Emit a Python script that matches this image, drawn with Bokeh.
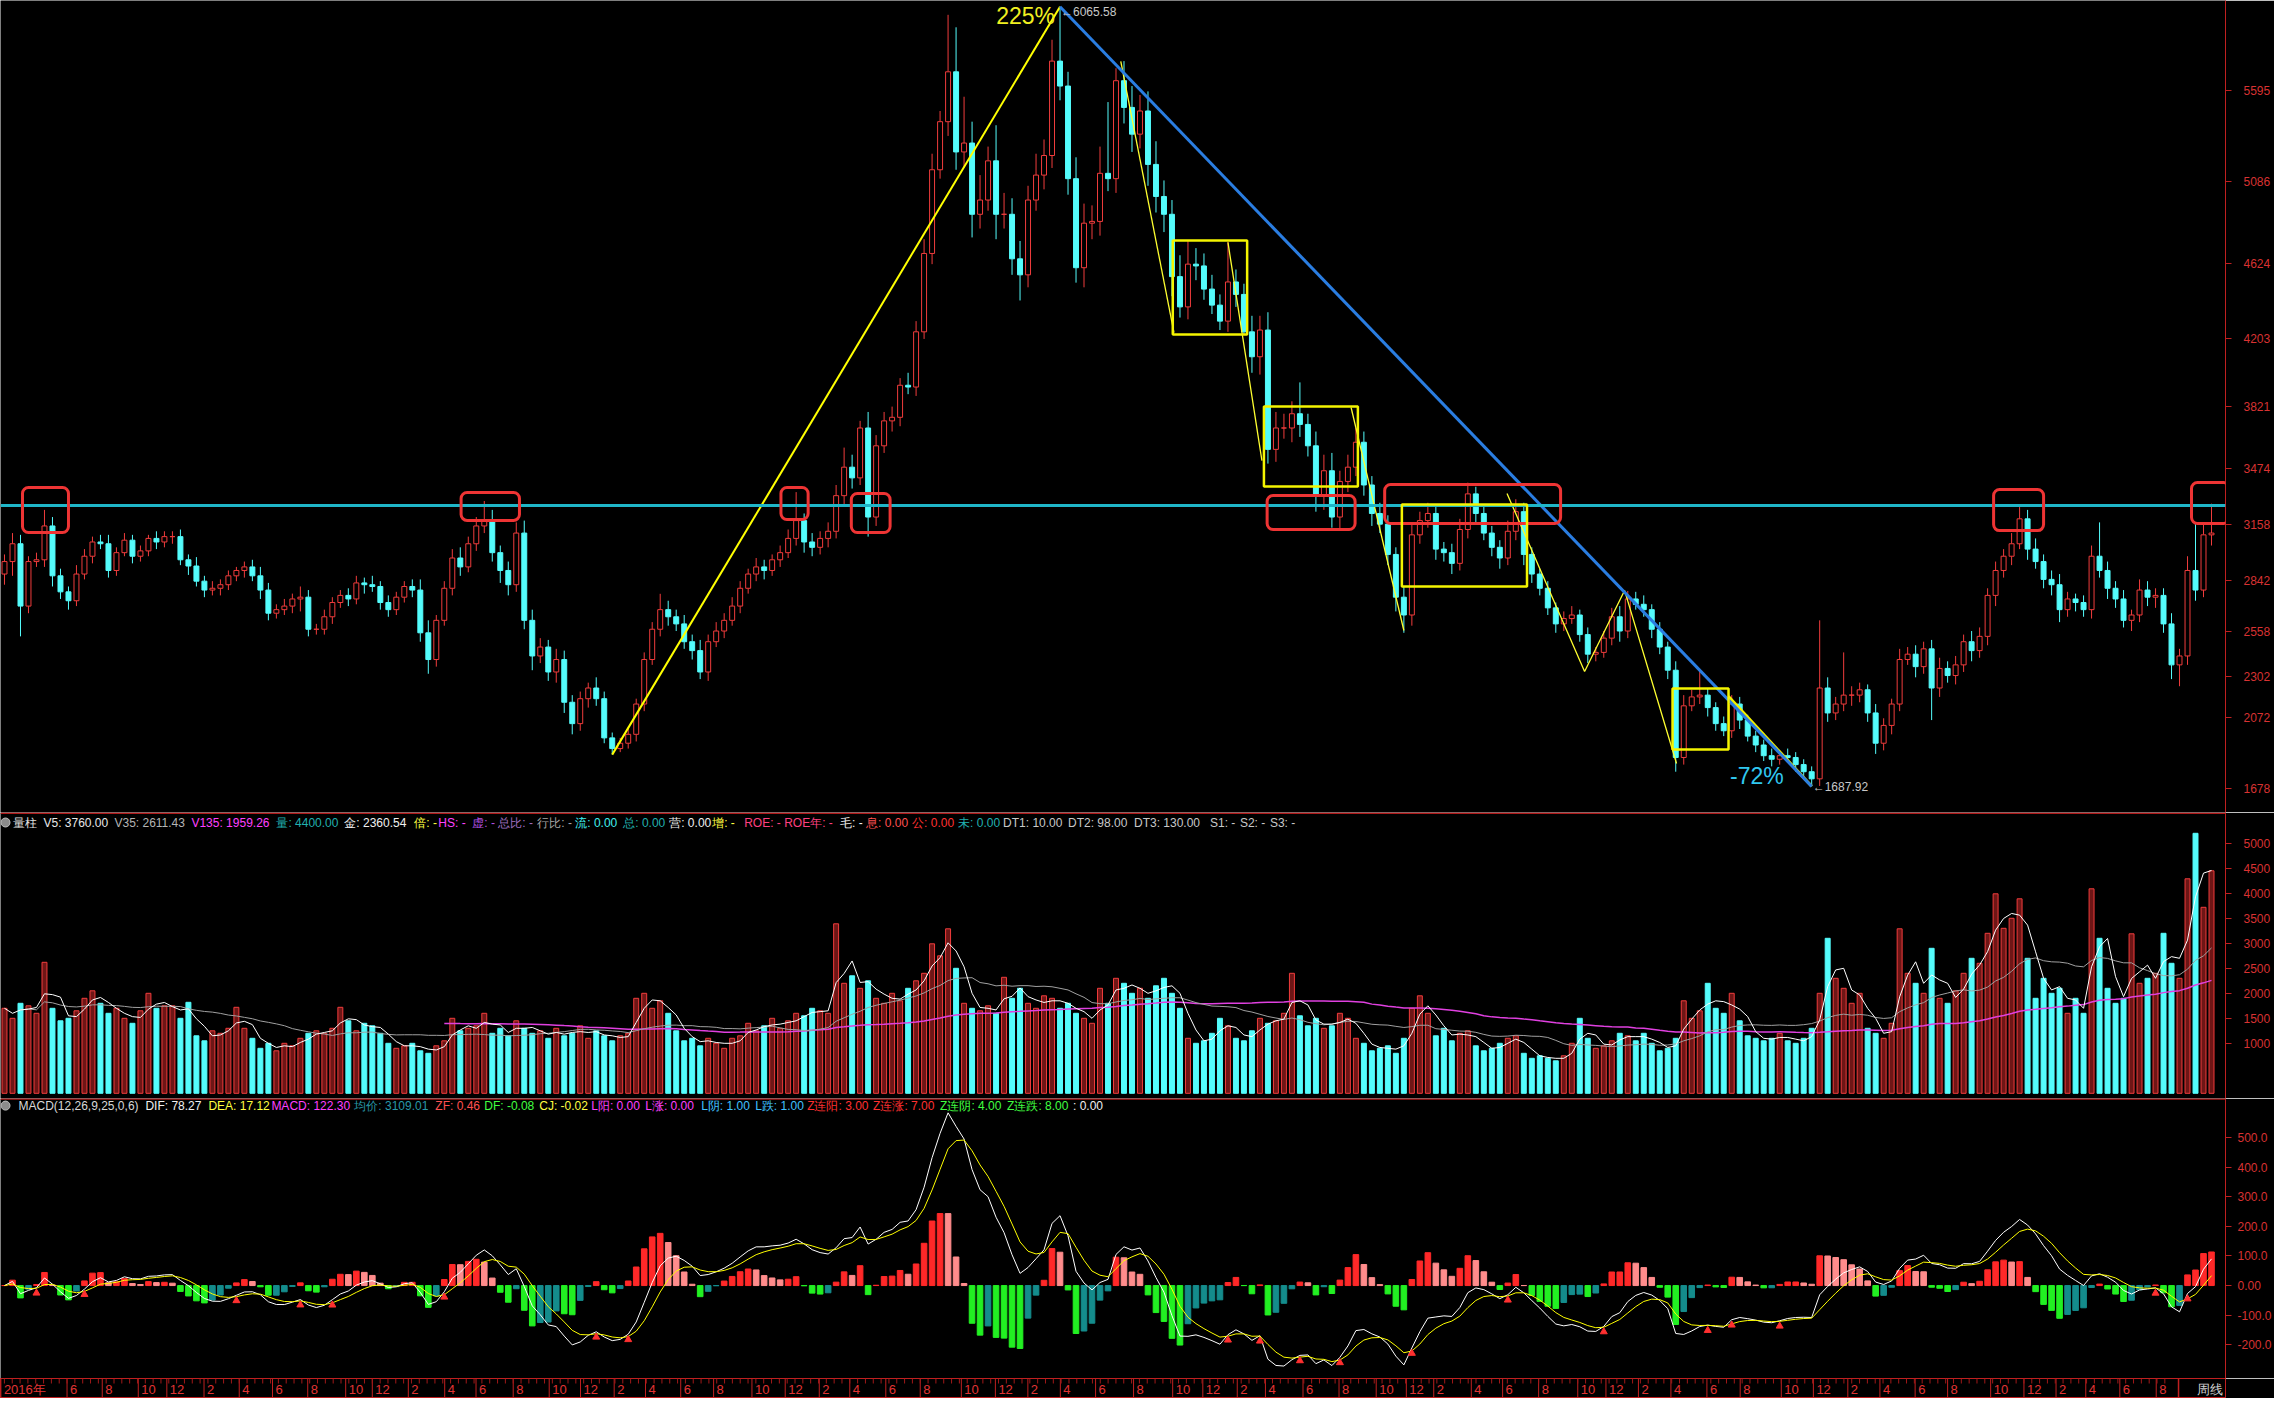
import re
import numpy as np
import pandas as pd
from bokeh.plotting import figure
from bokeh.layouts import column
from bokeh.models import Range1d, FixedTicker, ColumnDataSource, Span, BoxAnnotation
from bokeh.core.properties import value
from bokeh.embed import file_html
from bokeh.resources import INLINE

# ---------------- data (one bar ~ 2 weeks) ----------------
first_open = 2880
close = [
    2950, 3050, 2700, 2950, 2960, 3150, 2870, 2780, 2730, 2880,
    2980, 3060, 3050, 2900, 3000, 3070, 2980, 3010, 3080, 3060,
    3090, 3090, 2960, 2925, 2840, 2790, 2800, 2820, 2870, 2900,
    2920, 2870, 2790, 2660, 2680, 2700, 2740, 2750, 2570, 2570,
    2640, 2720, 2760, 2740, 2830, 2820, 2810, 2720, 2680, 2750,
    2810, 2790, 2550, 2400, 2620, 2800, 2970, 2920, 3050, 3150,
    3180, 3000, 2900, 2820, 3110, 2620, 2420, 2470, 2330, 2400,
    2160, 2040, 2180, 2240, 2180, 1960, 1900, 1930, 1980, 2150,
    2400, 2570, 2680, 2640, 2600, 2500, 2450, 2330, 2500, 2560,
    2620, 2700, 2800, 2880, 2920, 2900, 2960, 3000, 3080, 3180,
    3060, 3030, 3080, 3120, 3320, 3480, 3420, 3700, 3200, 3600,
    3740, 3760, 3940, 3930, 4240, 4680, 5150, 5420, 5700, 5250,
    5300, 4900, 4980, 5200, 4900, 4900, 4650, 4560, 4980, 5120,
    5230, 5760, 5620, 5100, 4600, 4850, 4860, 5130, 5100, 5650,
    5500, 5350, 5480, 5180, 5000, 4900, 4550, 4380, 4620, 4610,
    4480, 4390, 4300, 4520, 4450, 4240, 4100, 4250, 3580, 3700,
    3700, 3780, 3720, 3600, 3320, 3460, 3200, 3400, 3480, 3620,
    3380, 3220, 3160, 2990, 2750, 2650, 3100, 3180, 3220, 3020,
    3000, 2940, 3130, 3330, 3220, 3110, 3030, 2970, 3120, 3230,
    2990, 2880, 2800, 2690, 2600, 2630, 2650, 2540, 2430, 2440,
    2520, 2640, 2560, 2740, 2710, 2680, 2570, 2470, 2340, 1850,
    2140, 2190, 2200, 2130, 2040, 2000, 2150, 2060, 1970, 1920,
    1860, 1840, 1860, 1850, 1810, 1770, 1730, 2240, 2100, 2150,
    2200, 2200, 2230, 2100, 1930, 2030, 2150, 2400, 2430, 2360,
    2460, 2240, 2350, 2310, 2370, 2500, 2450, 2530, 2760, 2900,
    2980, 3050, 3190, 3020, 2950, 2850, 2820, 2680, 2740, 2720,
    2680, 2980, 2900, 2800, 2740, 2620, 2650, 2790, 2750, 2760,
    2600, 2370, 2420, 2900, 2790, 3100, 3110,
]
wick_up = [
    40, 60, 50, 30, 40, 90, 50, 40, 30, 50,
    40, 30, 40, 50, 30, 40, 30, 30, 20, 40,
    30, 30, 40, 30, 50, 30, 40, 30, 30, 20,
    30, 40, 50, 40, 30, 40, 30, 60, 40, 30,
    40, 30, 30, 40, 40, 30, 50, 30, 40, 30,
    30, 40, 60, 70, 30, 40, 50, 60, 40, 50,
    110, 60, 40, 50, 60, 70, 60, 50, 40, 60,
    50, 40, 40, 30, 60, 40, 30, 30, 40, 30,
    40, 40, 89, 50, 40, 50, 40, 60, 40, 50,
    40, 50, 40, 30, 50, 40, 30, 40, 50, 160,
    40, 50, 40, 50, 60, 110, 70, 40, 90, 60,
    50, 60, 40, 70, 60, 80, 90, 60, 320, 250,
    260, 120, 140, 80, 200, 120, 90, 100, 80, 120,
    90, 120, 305.58, 80, 120, 110, 90, 150, 400, 70,
    110, 120, 90, 110, 130, 90, 80, 120, 130, 90,
    70, 80, 60, 225, 70, 60, 90, 80, 100, 90,
    80, 70, 176, 60, 80, 90, 100, 60, 70, 80,
    60, 50, 60, 50, 40, 60, 70, 50, 60, 50,
    40, 50, 60, 63, 40, 50, 40, 40, 60, 70,
    50, 40, 30, 40, 30, 40, 50, 30, 40, 30,
    40, 50, 60, 45, 40, 50, 30, 40, 30, 50,
    60, 40, 145, 40, 30, 40, 50, 40, 30, 30,
    30, 40, 30, 40, 30, 30, 30, 380, 60, 40,
    240, 50, 40, 30, 50, 40, 30, 60, 40, 50,
    40, 50, 60, 40, 50, 40, 60, 50, 40, 50,
    40, 60, 66, 50, 60, 40, 50, 60, 40, 30,
    40, 60, 190, 50, 40, 50, 30, 60, 50, 40,
    40, 60, 40, 80, 260, 70, 165,
]
wick_dn = [
    60, 80, 170, 40, 30, 40, 60, 40, 50, 30,
    30, 40, 30, 40, 30, 20, 40, 30, 30, 40,
    30, 40, 30, 50, 30, 40, 30, 40, 30, 30,
    40, 30, 50, 40, 30, 30, 40, 70, 40, 30,
    30, 40, 30, 40, 30, 50, 30, 40, 40, 30,
    30, 40, 50, 80, 40, 30, 40, 50, 30, 40,
    40, 50, 70, 60, 40, 50, 80, 40, 50, 60,
    60, 60, 40, 50, 40, 30, 34, 20, 30, 40,
    40, 30, 40, 50, 40, 40, 50, 40, 50, 30,
    40, 30, 40, 30, 40, 50, 30, 40, 30, 40,
    60, 50, 40, 50, 40, 50, 60, 40, 110, 50,
    40, 60, 50, 40, 50, 40, 60, 50, 80, 100,
    90, 130, 80, 60, 140, 80, 90, 144, 70, 60,
    80, 70, 80, 90, 84, 110, 90, 80, 70, 80,
    90, 100, 80, 120, 90, 100, 110, 60, 70, 80,
    60, 50, 50, 60, 70, 15, 90, 100, 80, 70,
    60, 80, 70, 60, 90, 80, 60, 70, 60, 50,
    60, 70, 50, 60, 80, 100, 60, 50, 40, 60,
    50, 60, 40, 50, 60, 40, 50, 60, 40, 50,
    60, 50, 40, 40, 50, 40, 30, 40, 50, 40,
    30, 40, 60, 40, 30, 40, 50, 40, 50, 80,
    40, 30, 40, 50, 40, 30, 40, 50, 30, 40,
    30, 40, 30, 30, 40, 30, 42.08, 40, 50, 40,
    40, 60, 40, 50, 60, 40, 50, 40, 30, 60,
    40, 180, 50, 40, 50, 40, 60, 40, 50, 60,
    40, 50, 30, 60, 40, 50, 60, 70, 40, 50,
    40, 50, 40, 60, 50, 40, 60, 40, 50, 60,
    50, 80, 120, 50, 60, 40, 60,
]
volume = [
    1700, 1500, 1800, 1750, 1600, 2620, 1700, 1450, 1500, 1650,
    1900, 2050, 1800, 1600, 1700, 1500, 1400, 1650, 2000, 1700,
    1750, 1750, 1500, 1820, 1150, 1050, 1250, 1200, 1300, 1720,
    1300, 1100, 900, 1000, 850, 1000, 950, 1100, 1200, 1250,
    1200, 1300, 1720, 1450, 1250, 1400, 1350, 1200, 1000, 900,
    950, 1000, 850, 800, 950, 1050, 1500, 1250, 1300, 1350,
    1600, 1200, 1300, 1150, 1450, 1300, 1200, 1250, 1100, 1300,
    1150, 1200, 1350, 1100, 1250, 1150, 1050, 1150, 1200, 1900,
    2000, 1700, 1850, 1600, 1250, 1050, 1100, 950, 1100, 1000,
    900, 1100, 1150, 1400, 1250, 1350, 1500, 1300, 1450, 1600,
    1550, 1700, 1650, 1600, 3390, 2200, 2350, 2100, 2250, 1900,
    1800, 2000, 1850, 2100, 2250, 2400, 2990, 2750, 3290, 2500,
    1800, 1700, 1650, 1750, 1600, 2320, 1900, 2100, 1800, 1700,
    1950, 1900, 1700, 1800, 1600, 1500, 1400, 2100, 1800, 2300,
    2200, 2000, 2100, 1900, 2150, 2300, 2000, 1700, 1100, 1000,
    1050, 1200, 1500, 1350, 1100, 1050, 1250, 1500, 1400, 1450,
    1600, 2400, 1550, 1350, 1500, 1300, 1350, 1600, 1500, 1100,
    1000, 850, 900, 950, 800, 1100, 1700, 1950, 1600, 1150,
    1300, 1050, 1200, 1250, 950, 850, 900, 1000, 1100, 1150,
    800, 700, 750, 700, 650, 750, 1000, 1500, 1100, 900,
    950, 1050, 1200, 1150, 1050, 1200, 1000, 850, 900, 1100,
    1850, 1500, 1650, 2200, 1700, 1600, 2000, 1450, 1150, 1100,
    1050, 1100, 1200, 1050, 1000, 1100, 1300, 2000, 3100, 2300,
    2100, 1800, 2000, 1300, 1200, 1100, 1400, 3290, 2400, 2200,
    2000, 2900, 1900, 1800, 2050, 2400, 2700, 2600, 3200, 3990,
    3300, 3500, 3890, 2700, 1900, 2300, 2000, 2100, 1600, 1900,
    1600, 4090, 3100, 2100, 1800, 1900, 3190, 2200, 2300, 2400,
    3200, 2600, 2300, 4290, 5200, 3720, 4450,
]
tick_pos = [
    -0.45, 8.0, 12.5, 17.1, 20.75,
    25.5, 30.0, 34.25, 38.75, 43.6, 47.0,
    51.6, 56.25, 60.25, 65.0, 69.6, 73.6,
    77.9, 81.9, 86.4, 90.6, 95.5, 99.75,
    104.1, 108.0, 112.6, 117.0, 122.25, 126.6,
    130.75, 134.9, 139.4, 144.25, 149.25, 153.1,
    157.5, 161.1, 165.9, 170.5, 175.25, 179.1,
    182.6, 187.4, 191.4, 196.0, 201.0, 204.6,
    208.75, 212.9, 217.5, 221.75, 227.0, 231.1,
    235.5, 239.6, 244.1, 248.25, 253.75, 258.0,
    262.1, 265.9, 270.25, 274.9,
]
tick_labels = ["2016年", "6", "8", "10", "12"] + ["2", "4", "6", "8", "10", "12"] * 9 + ["2", "4", "6", "8"]
price_ticks = [1678, 2072, 2302, 2558, 2842, 3158, 3474, 3821, 4203, 4624, 5086, 5595]
vol_ticks = [1000, 1500, 2000, 2500, 3000, 3500, 4000, 4500, 5000]
macd_ticks = [-200, -100, 0, 100, 200, 300, 400, 500]
resistance = 3265
period_name = "周线"
# annotation boxes: (first bar edge, last bar edge, low price, high price)
red_boxes = [
    (2.25, 8.0, 3113, 3366), (57.1, 64.4, 3181, 3338), (97.1, 100.5, 3186, 3366),
    (105.9, 110.75, 3113, 3332), (157.9, 168.9, 3130, 3321), (172.6, 194.6, 3164, 3383),
    (248.75, 255.0, 3124, 3355), (273.5, 278.25, 3164, 3394),
]
yellow_boxes = [
    (146.1, 155.4, 4225, 4753), (157.5, 169.25, 3372, 3821),
    (174.75, 190.4, 2810, 3270), (208.6, 215.6, 1895, 2237),
]
zigzag_thin = [
    [(139.6, 5758), (146.25, 4236)],
    [(153.0, 4742), (157.25, 3517)],
    [(168.4, 3815), (175.0, 2563)],
    [(187.9, 3332), (197.6, 2333), (202.6, 2788), (209.1, 1816)],
]
zigzag_thick_start = (215.6, 2192)

# ---------------- derived series ----------------
n = len(close)
assert len(wick_up) == n and len(wick_dn) == n and len(volume) == n
assert len(tick_pos) == len(tick_labels)
xs = np.arange(n)
c = np.array(close, float)
o = np.array([first_open] + close[:-1], float)
top = np.maximum(o, c)
bot = np.minimum(o, c)
hi = top + np.array(wick_up, float)
lo = bot - np.array(wick_dn, float)
up = c >= o

RED = "#f03c3c"
CYAN = "#54fcfc"
AXIS_RED = "#c02020"
LABEL_RED = "#d83232"
FONT = "Liberation Sans"

col = [RED if u else CYAN for u in up]
fill = ["#000000" if u else CYAN for u in up]
vfill = ["#6e1616" if u else CYAN for u in up]

ip = int(np.argmax(hi))
il1 = int(np.argmin(lo[:ip]))
il2 = ip + int(np.argmin(lo[ip:]))
rise_pct = (hi[ip] / lo[il1] - 1) * 100
fall_pct = (lo[il2] / hi[ip] - 1) * 100

s = pd.Series(c)
dif = s.ewm(span=6, adjust=False).mean() - s.ewm(span=13, adjust=False).mean()
dea = dif.ewm(span=4.5, adjust=False).mean()
hist = 2 * (dif - dea)
prev = hist.shift(1).fillna(0)
hcol = []
for h, pv_ in zip(hist, prev):
    if h >= 0:
        hcol.append("#ff2828" if h >= pv_ else "#ff8c8c")
    else:
        hcol.append("#22f022" if h <= pv_ else "#148c8c")
cross = [i for i in range(1, n) if dif[i - 1] <= dea[i - 1] and dif[i] > dea[i] and dif[i] < 0]

vs = pd.Series(np.array(volume, float))
v5 = vs.rolling(3, min_periods=1).mean()
v35 = vs.rolling(18, min_periods=3).mean()
v135 = vs.rolling(67, min_periods=56).mean()

# ---------------- figures ----------------
X_END = 277.75
xr = Range1d(-0.5, X_END)
common = dict(width=2274, x_range=xr, output_backend="svg", toolbar_location=None,
              background_fill_color="#000000", border_fill_color="#000000",
              min_border_left=0, min_border_right=48, min_border_top=0, min_border_bottom=0,
              outline_line_color=None)


def style_axis(ax, ticks, standoff, overrides=None):
    ax.ticker = FixedTicker(ticks=ticks)
    ax.axis_line_color = AXIS_RED
    ax.major_tick_line_color = AXIS_RED
    ax.major_tick_out = 6
    ax.major_tick_in = 0
    ax.minor_tick_line_color = None
    ax.major_label_text_color = LABEL_RED
    ax.major_label_text_font = FONT
    ax.major_label_text_font_size = "12px"
    ax.major_label_standoff = standoff
    if overrides:
        ax.major_label_overrides = overrides


def px(v):
    return v / 8.0 - 0.5


# ---- main price panel ----
p = figure(height=812, y_range=Range1d(1541, 6100.4), y_axis_location="right",
           x_axis_location=None, **common)
p.grid.visible = False
style_axis(p.yaxis[0], price_ticks, 12)

src = ColumnDataSource(dict(x=xs, top=top, bot=bot, hi=hi, lo=lo, col=col, fill=fill))
p.segment(x0="x", y0="top", x1="x", y1="hi", line_color="col", line_width=1, source=src)
p.segment(x0="x", y0="bot", x1="x", y1="lo", line_color="col", line_width=1, source=src)
p.vbar(x="x", width=0.62, top="top", bottom="bot", fill_color="fill", line_color="col",
       line_width=1, source=src)

p.add_layout(Span(location=resistance, dimension="width", line_color="#1fb6c8", line_width=3))
for (x0, x1, y0, y1) in red_boxes:
    p.add_layout(BoxAnnotation(left=x0, right=x1, bottom=y0, top=y1, fill_color=None, fill_alpha=0,
                               line_color="#ee3434", line_alpha=1.0, line_width=3, border_radius=6))
for (x0, x1, y0, y1) in yellow_boxes:
    p.add_layout(BoxAnnotation(left=x0, right=x1, bottom=y0, top=y1, fill_color=None, fill_alpha=0,
                               line_color="#f4f400", line_alpha=1.0, line_width=2.5))
for seg in zigzag_thin:
    p.line([q[0] for q in seg], [q[1] for q in seg], line_color="#ffff30", line_width=1.3)
p.line([zigzag_thick_start[0], il2], [zigzag_thick_start[1], lo[il2]], line_color="#f4f400",
       line_width=3)
p.line([il1, ip], [lo[il1], hi[ip]], line_color="#ffff00", line_width=2)
p.line([ip, il2], [hi[ip], lo[il2]], line_color="#2a7de1", line_width=3)

p.text(x=[ip], y=[hi[ip]], text=[f"{rise_pct:.0f}%"], text_align="right", text_baseline="bottom",
       x_offset=-5, y_offset=22, text_color="#f0f020", text_font=value(FONT), text_font_size="23px")
p.text(x=[ip], y=[hi[ip]], text=[f"←{hi[ip]:.2f}"], text_align="left", text_baseline="middle",
       x_offset=1, y_offset=5, text_color="#c8c8c8", text_font=value(FONT), text_font_size="12px")
p.text(x=[il2], y=[lo[il2]], text=[f"{fall_pct:.0f}%"], text_align="right", text_baseline="bottom",
       x_offset=-28, y_offset=3, text_color="#30c8f0", text_font=value(FONT), text_font_size="23px")
p.text(x=[il2], y=[lo[il2]], text=[f"←{lo[il2]:.2f}"], text_align="left", text_baseline="middle",
       x_offset=1, y_offset=1, text_color="#c8c8c8", text_font=value(FONT), text_font_size="12px")

# ---- volume panel ----
pv = figure(height=286, y_range=Range1d(-104, 5616), y_axis_location="right",
            x_axis_location=None, **common)
pv.grid.visible = False
style_axis(pv.yaxis[0], vol_ticks, 12)
vsrc = ColumnDataSource(dict(x=xs, v=volume, col=col, fill=vfill))
pv.vbar(x="x", width=0.62, top="v", bottom=0, fill_color="fill", line_color="col",
        line_width=1, source=vsrc)
pv.line(xs, v135, line_color="#e040e0", line_width=1.5)
pv.line(xs, v35, line_color="#a0a0a0", line_width=1)
pv.line(xs, v5, line_color="#ffffff", line_width=1)
pv.add_layout(Span(location=5600, dimension="width", line_color="#b01818", line_width=1.5))

vol_title = [
    (13, "量柱", "#e0e0e0"), (43, "V5: 3760.00", "#e8e8e8"), (114, "V35: 2611.43", "#b4b4b4"),
    (191, "V135: 1959.26", "#ff40ff"), (276, "量: 4400.00", "#20b0b0"), (344, "金: 2360.54", "#f0f0f0"),
    (414, "倍: -", "#ffff40"), (438, "HS: -", "#ff40ff"), (472, "虚: -", "#b050e0"),
    (498, "总比: -", "#a070c0"), (537, "行比: -", "#a8a8a8"), (575, "流: 0.00", "#40f0f0"),
    (623, "总: 0.00", "#20b0b0"), (669, "营: 0.00", "#f0f0f0"), (712, "增: -", "#ffff40"),
    (744, "ROE: -", "#ff4080"), (784, "ROE年: -", "#ff4080"), (840, "毛: -", "#f0f0f0"),
    (866, "息: 0.00", "#ff5050"), (912, "公: 0.00", "#ff3030"), (958, "未: 0.00", "#20b0b0"),
    (1003, "DT1: 10.00", "#c8c8c8"), (1068, "DT2: 98.00", "#c8c8c8"), (1134, "DT3: 130.00", "#c8c8c8"),
    (1210, "S1: -", "#c8c8c8"), (1240, "S2: -", "#c8c8c8"), (1270, "S3: -", "#c8c8c8"),
]
pv.scatter([px(5)], [5416], size=9, fill_color="#8c8c8c", line_color="#c0c0c0")
pv.text(x=[px(t[0]) for t in vol_title], y=[5416] * len(vol_title), text=[t[1] for t in vol_title],
        text_color=[t[2] for t in vol_title], text_align="left", text_baseline="middle",
        text_font=value(FONT), text_font_size="12px")

# ---- MACD panel ----
pm = figure(height=280, y_range=Range1d(-314, 632), y_axis_location="right",
            x_axis_location=None, **common)
pm.grid.visible = False
style_axis(pm.yaxis[0], macd_ticks, 6,
           {500: "500.0", 400: "400.0", 300: "300.0", 200: "200.0", 100: "100.0",
            0: "0.00", -100: "-100.0", -200: "-200.0"})
msrc = ColumnDataSource(dict(x=xs, h=hist.values, col=hcol))
pm.vbar(x="x", width=0.7, top="h", bottom=0, fill_color="col", line_color="col", source=msrc)
pm.line(xs, dif.values, line_color="#ffffff", line_width=1)
pm.line(xs, dea.values, line_color="#ffff00", line_width=1)
pm.scatter([xs[i] for i in cross], [dif[i] - 18 for i in cross], marker="triangle", size=7,
           fill_color="#ff3030", line_color="#ff3030")
pm.add_layout(Span(location=630, dimension="width", line_color="#b01818", line_width=1.5))
macd_title = [
    (18, "MACD(12,26,9,25,0,6)", "#d8d8d8"), (145, "DIF: 78.27", "#f0f0f0"),
    (208, "DEA: 17.12", "#ffff40"), (271, "MACD: 122.30", "#ff40ff"), (354, "均价: 3109.01", "#2898a8"),
    (435, "ZF: 0.46", "#ff5050"), (484, "DF: -0.08", "#40ff40"), (539, "CJ: -0.02", "#ffff40"),
    (591, "L阳: 0.00", "#ff40ff"), (645, "L涨: 0.00", "#ff40ff"), (701, "L阴: 1.00", "#40c0ff"),
    (755, "L跌: 1.00", "#40c0ff"), (807, "Z连阳: 3.00", "#ff3030"), (873, "Z连涨: 7.00", "#ff3030"),
    (940, "Z连阴: 4.00", "#40ff40"), (1007, "Z连跌: 8.00", "#40ff40"), (1073, ": 0.00", "#f0f0f0"),
]
pm.scatter([px(5)], [608], size=9, fill_color="#8c8c8c", line_color="#c0c0c0")
pm.text(x=[px(t[0]) for t in macd_title], y=[608] * len(macd_title), text=[t[1] for t in macd_title],
        text_color=[t[2] for t in macd_title], text_align="left", text_baseline="middle",
        text_font=value(FONT), text_font_size="12px")

# ---- date strip (same scale as the panels, frame spans full width) ----
strip_kw = {k: v for k, v in common.items() if k not in ("x_range", "outline_line_color", "min_border_right")}
pt = figure(height=20, x_range=Range1d(-0.5, -0.5 + 2274 / 8.0), y_range=Range1d(0, 1),
            y_axis_location=None, x_axis_location=None, min_border_right=0,
            outline_line_color="#c02020", **strip_kw)
pt.grid.visible = False
pt.segment(x0=tick_pos, y0=[0] * len(tick_pos), x1=tick_pos, y1=[1] * len(tick_pos),
           line_color="#c02020", line_width=1)
pt.segment(x0=list(xs), y0=[0.75] * n, x1=list(xs), y1=[1] * n, line_color="#a01818", line_width=1)
pt.text(x=tick_pos, y=[0.45] * len(tick_pos), text=tick_labels, x_offset=3, text_align="left",
        text_baseline="middle", text_color="#e03434", text_font=value(FONT), text_font_size="13px")
pt.add_layout(Span(location=X_END, dimension="height", line_color="#c02020", line_width=1.5))
pt.text(x=[X_END], y=[0.45], text=[period_name], x_offset=18, text_align="left",
        text_baseline="middle", text_color="#d0d0d0", text_font=value(FONT), text_font_size="13px")

layout = column(p, pv, pm, pt, spacing=0)
html = file_html(layout, INLINE, title="chart")
html = re.sub(r"<body>", '<body style="margin:0;padding:0;background-color:#000000;overflow:hidden;">',
              html, count=1)
open("out.html", "w").write(html)
